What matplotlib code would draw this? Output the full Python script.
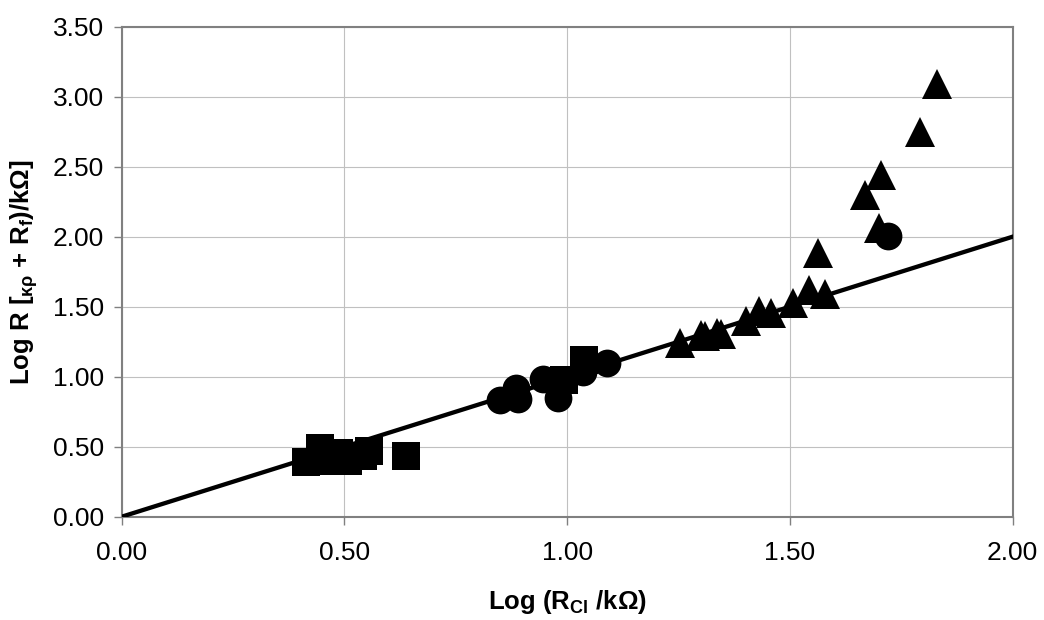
import matplotlib
matplotlib.use("Agg")
import matplotlib.pyplot as plt

plt.rcParams['font.family'] = ['Liberation Sans', 'DejaVu Sans']
plt.rcParams['mathtext.fontset'] = 'custom'
plt.rcParams['mathtext.rm'] = 'Liberation Sans:bold'
plt.rcParams['mathtext.it'] = 'Liberation Sans:bold'
plt.rcParams['mathtext.bf'] = 'Liberation Sans:bold'

# squares
sq_x = [0.414, 0.446, 0.460, 0.487, 0.507, 0.541, 0.556, 0.639, 0.993, 1.038]
sq_y = [0.388, 0.492, 0.400, 0.454, 0.397, 0.437, 0.468, 0.437, 0.978, 1.120]

# circles
ci_x = [0.850, 0.884, 0.890, 0.945, 0.979, 1.035, 1.090, 1.721]
ci_y = [0.830, 0.920, 0.844, 0.980, 0.850, 1.030, 1.100, 2.006]

# triangles
tr_x = [1.254, 1.301, 1.310, 1.336, 1.346, 1.401, 1.430, 1.457, 1.507,
        1.542, 1.578, 1.564, 1.668, 1.704, 1.700, 1.793, 1.829]
tr_y = [1.240, 1.300, 1.294, 1.311, 1.306, 1.401, 1.467, 1.456, 1.527,
        1.620, 1.590, 1.880, 2.300, 2.440, 2.065, 2.750, 3.090]

# 1:1 line
line_x = [0.0, 2.0]
line_y = [0.0, 2.0]

x_ticks = [0.0, 0.5, 1.0, 1.5, 2.0]
y_ticks = [0.0, 0.5, 1.0, 1.5, 2.0, 2.5, 3.0, 3.5]

fig = plt.figure(figsize=(10.44, 6.2), dpi=100)
ax = fig.add_axes([0.1166, 0.1666, 0.8534, 0.7904])

ax.plot(line_x, line_y, color='black', lw=3.1, zorder=3)
ax.plot(sq_x, sq_y, 's', color='black', ms=19.5, mew=0, zorder=4)
ax.plot(tr_x, tr_y, '^', color='black', ms=21.5, mew=0, zorder=4)
ax.plot(ci_x, ci_y, 'o', color='black', ms=20, mew=0, zorder=5)

ax.set_xlim(0, 2.0)
ax.set_ylim(0, 3.5)
ax.set_xticks(x_ticks)
ax.set_yticks(y_ticks)
ax.set_xticklabels([f'{v:.2f}' for v in x_ticks])
ax.set_yticklabels([f'{v:.2f}' for v in y_ticks])
ax.grid(True, color='#c0c0c0', lw=0.8)
ax.set_axisbelow(True)

for s in ax.spines.values():
    s.set_color('#808080')
    s.set_linewidth(1.5)

ax.tick_params(axis='both', direction='out', length=5.5, width=1,
               color='#808080', labelsize=19)
ax.tick_params(axis='x', pad=12)
ax.tick_params(axis='y', pad=7)

ax.set_xlabel(r'Log (R$_{\mathrm{Cl}}$ /k$\mathrm{\Omega}$)', fontsize=18.5,
              fontweight='bold', va='center')
ax.xaxis.set_label_coords(0.5, -0.174)
ax.set_ylabel(r'Log R [$_{\mathrm{κρ}}$ + R$_{\mathrm{f}}$)/k$\mathrm{\Omega}$]',
              fontsize=18.5, fontweight='bold', va='center')
ax.yaxis.set_label_coords(-0.1095, 0.5)

fig.savefig('out.png', dpi=100)
